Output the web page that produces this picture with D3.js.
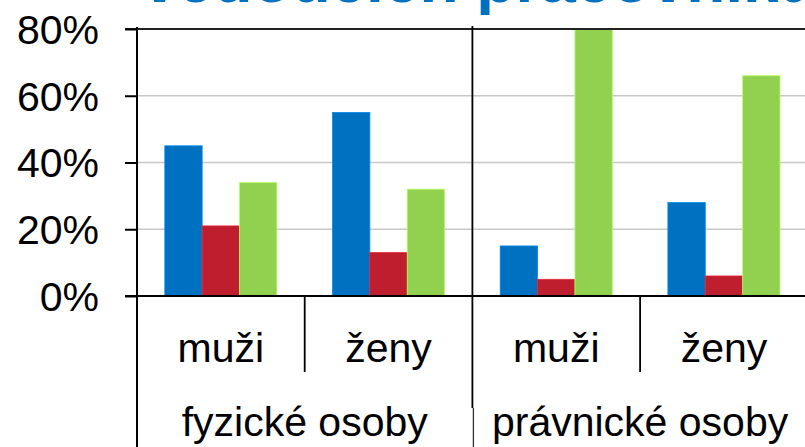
<!DOCTYPE html>
<html>
<head>
<meta charset="utf-8">
<script src="https://cdn.jsdelivr.net/npm/d3@7/dist/d3.min.js"></script>
<style>
  html, body { margin: 0; padding: 0; background: #fff; overflow: hidden; }
  svg { display: block; font-family: "Liberation Sans", Arial, sans-serif; }
</style>
</head>
<body>
<svg id="chart" width="805" height="447"></svg>
<script>
// values (share in %)
const groups = ['fyzické osoby', 'právnické osoby'];
const genders = ['muži', 'ženy'];
const seriesKeys = ['a', 'b', 'c'];
const seriesColors = ['#0070c0', '#be1e2d', '#92d050'];
const blueValues = [45, 55, 15, 28];
const redValues = [21, 13, 5, 6];
const greenValues = [34, 32, 80, 66];
const yTicks = [0, 20, 40, 60, 80];
const titleText = 'vedoucích pracovníků';

const svg = d3.select('#chart');
const width = 805;
const height = 447;

const plotLeft = 137;
const catWidth = 167.7;
const plotTop = 29;
const base = 296;

// one category per group/gender pair
const cats = [];
groups.forEach((g, gi) => genders.forEach((s, si) => cats.push({ group: g, gender: s, key: `${gi}-${si}` })));
const rows = cats.map((c, i) => ({ ...c, values: [blueValues[i], redValues[i], greenValues[i]] }));

const x0 = d3.scaleBand().domain(cats.map(c => c.key)).range([plotLeft, plotLeft + catWidth * cats.length]);
const x1 = d3.scaleBand().domain(seriesKeys).range([27.8, 139.9]);
const y = d3.scaleLinear().domain([0, 80]).range([base, plotTop]);

// title, mostly cut off by the top edge
svg.append('text')
  .attr('x', 142)
  .attr('y', 2)
  .attr('fill', '#0070c0')
  .attr('font-size', 64)
  .attr('font-weight', 'bold')
  .text(titleText);

// gridlines
svg.append('g')
  .selectAll('line')
  .data(yTicks.filter(t => t > 0 && t < 80))
  .join('line')
  .attr('x1', plotLeft).attr('x2', width)
  .attr('y1', d => y(d)).attr('y2', d => y(d))
  .attr('stroke', '#c8c8c8')
  .attr('stroke-width', 1.5);

// bars
const barGroups = svg.append('g')
  .selectAll('g')
  .data(rows)
  .join('g')
  .attr('transform', d => `translate(${x0(d.key)},0)`);

barGroups.selectAll('rect')
  .data(d => d.values.map((v, i) => ({ key: seriesKeys[i], value: v, color: seriesColors[i] })))
  .join('rect')
  .attr('x', d => x1(d.key))
  .attr('width', x1.bandwidth())
  .attr('y', d => y(d.value))
  .attr('height', d => y(0) - y(d.value))
  .attr('fill', d => d.color)
  .attr('stroke', d => d3.color(d.color).brighter(0.6))
  .attr('stroke-width', 0.8);

// top border at 80%
svg.append('line')
  .attr('x1', plotLeft - 12).attr('x2', width)
  .attr('y1', y(80)).attr('y2', y(80))
  .attr('stroke', '#222')
  .attr('stroke-width', 1.8);

// y axis
const yAxis = d3.axisLeft(y)
  .tickValues(yTicks)
  .tickSize(12)
  .tickFormat(d => `${d}%`);

const yg = svg.append('g')
  .attr('transform', `translate(${plotLeft},0)`)
  .call(yAxis);
yg.select('.domain').remove();
yg.selectAll('.tick line').attr('stroke', '#000').attr('stroke-width', 2);
yg.selectAll('.tick text')
  .attr('x', -38)
  .attr('dy', '0.35em')
  .attr('fill', '#000')
  .attr('font-size', 41)
  .attr('font-family', '"Liberation Sans", Arial, sans-serif');

// left axis line running down through the label area
svg.append('line')
  .attr('x1', plotLeft).attr('x2', plotLeft)
  .attr('y1', plotTop - 2).attr('y2', height)
  .attr('stroke', '#000')
  .attr('stroke-width', 2);

// separator between the two groups inside the plot
const groupEdge = x0(cats[2].key);
svg.append('line')
  .attr('x1', groupEdge).attr('x2', groupEdge)
  .attr('y1', plotTop - 3).attr('y2', base)
  .attr('stroke', '#000')
  .attr('stroke-width', 1.8);

// x axis line
svg.append('line')
  .attr('x1', plotLeft - 12).attr('x2', width)
  .attr('y1', base).attr('y2', base)
  .attr('stroke', '#000')
  .attr('stroke-width', 2);

// separators in the label area
svg.append('g')
  .selectAll('line')
  .data([cats[1], cats[3]])
  .join('line')
  .attr('x1', d => x0(d.key)).attr('x2', d => x0(d.key))
  .attr('y1', base).attr('y2', 372)
  .attr('stroke', '#000')
  .attr('stroke-width', 1.8);

svg.append('line')
  .attr('x1', groupEdge).attr('x2', groupEdge)
  .attr('y1', base).attr('y2', 408)
  .attr('stroke', '#000')
  .attr('stroke-width', 1.8);
svg.append('line')
  .attr('x1', groupEdge + 1).attr('x2', groupEdge + 1)
  .attr('y1', 408).attr('y2', height)
  .attr('stroke', '#333')
  .attr('stroke-width', 1.3);

// gender labels
svg.append('g')
  .selectAll('text')
  .data(cats)
  .join('text')
  .attr('x', d => x0(d.key) + x0.bandwidth() / 2)
  .attr('y', 362)
  .attr('text-anchor', 'middle')
  .attr('font-size', 41)
  .attr('fill', '#000')
  .text(d => d.gender);

// group labels
svg.append('g')
  .selectAll('text')
  .data(groups)
  .join('text')
  .attr('x', (d, i) => x0(cats[i * 2].key) + x0.bandwidth())
  .attr('y', 436)
  .attr('text-anchor', 'middle')
  .attr('font-size', 41)
  .attr('fill', '#000')
  .text(d => d);
</script>
</body>
</html>
